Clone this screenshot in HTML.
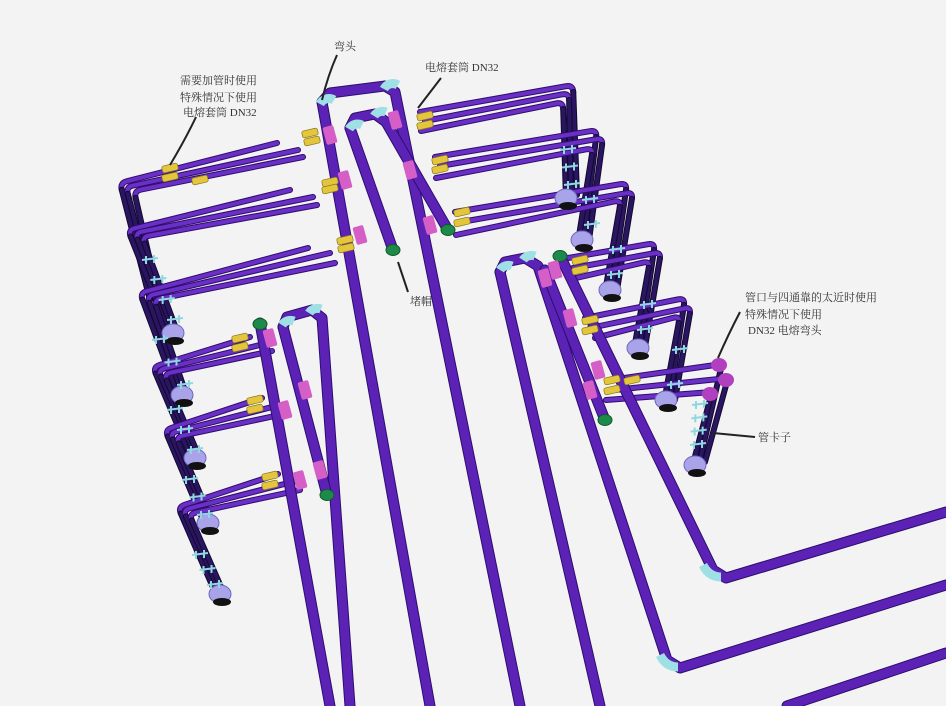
<!DOCTYPE html>
<html><head><meta charset="utf-8">
<style>
html,body{margin:0;padding:0;background:#f3f3f3;}
svg{display:block}
text{font-family:"Liberation Serif","Noto Serif CJK SC","Noto Sans CJK SC",serif;font-size:11px;fill:#333}
</style></head>
<body>
<svg id="s" width="946" height="706" viewBox="0 0 946 706" xmlns="http://www.w3.org/2000/svg">
<rect width="946" height="706" fill="#f3f3f3"/>
<g id="pipes"></g>
<g id="fit"></g>
<g stroke="#222" stroke-width="2" fill="none">
<path d="M337,55 Q328,75 322,100"/>
<path d="M441,78 L418,108"/>
<path d="M196,117 Q185,140 170,165"/>
<path d="M398,262 L408,292"/>
<path d="M740,312 Q728,335 718,358"/>
<path d="M713,433 L755,437"/>
</g>
<text x="334" y="50">弯头</text>
<text x="425" y="71">电熔套筒 DN32</text>
<text x="180" y="84">需要加管时使用</text>
<text x="180" y="101">特殊情况下使用</text>
<text x="183" y="116">电熔套筒 DN32</text>
<text x="410" y="305">堵帽</text>
<text x="745" y="301">管口与四通靠的太近时使用</text>
<text x="745" y="318">特殊情况下使用</text>
<text x="748" y="334">DN32 电熔弯头</text>
<text x="758" y="441">管卡子</text>
</svg>
<script>
var NS="http://www.w3.org/2000/svg";
var P=document.getElementById('pipes'),F=document.getElementById('fit');
function el(g,t,a){var e=document.createElementNS(NS,t);for(var k in a)e.setAttribute(k,a[k]);g.appendChild(e);return e;}
function line(g,d,w,c,dark){el(g,'path',{d:d,fill:'none',stroke:dark||'#2e0d6e','stroke-width':w+2,'stroke-linecap':'round','stroke-linejoin':'round'});el(g,'path',{d:d,fill:'none',stroke:c,'stroke-width':w,'stroke-linecap':'round','stroke-linejoin':'round'});}
function pl(pts){return 'M'+pts.map(function(p){return p[0]+','+p[1]}).join(' L');}
function main(pts){line(P,pl(pts),9,'#5b22b5');}
function u(a,b,l){var dx=a[0]-b[0],dy=a[1]-b[1],n=Math.hypot(dx,dy);return [b[0]+dx/n*l,b[1]+dy/n*l];}
function branch(e,c,b){var A=u(e,c,7),B=u(b,c,7);
 line(P,'M'+e+' L'+A+' Q'+c+' '+B,4,'#6a2fc4');
 line(P,'M'+B+' L'+b,4,'#2a1660','#120830');}
function oval(x,y){el(P,'ellipse',{cx:x,cy:y,rx:11,ry:9,fill:'#a9a3ea',stroke:'#6f67c0'});el(P,'ellipse',{cx:x+2,cy:y+8,rx:9,ry:4,fill:'#111'});}
function sleeve(x,y,a){var g=el(F,'g',{transform:'translate('+x+','+y+') rotate('+(a||-13)+')'});el(g,'rect',{x:-8,y:-3.5,width:16,height:7,rx:2,fill:'#e3c63c',stroke:'#8a7520','stroke-width':0.7});}
function pink(x,y,a){var g=el(F,'g',{transform:'translate('+x+','+y+') rotate('+a+')'});el(g,'rect',{x:-5.5,y:-9,width:11,height:18,rx:2,fill:'#d55fc6'});}
function cap(x,y){el(F,'ellipse',{cx:x,cy:y,rx:7,ry:5.5,fill:'#1d8a4a',stroke:'#0e5a2a'});}
function cyan(x,y,a){el(F,'path',{d:'M'+x+','+y+' a10,10 0 0 1 '+(a||16)+',-4',fill:'none',stroke:'#9fe0e6','stroke-width':9});}
function clips(x1,y1,x2,y2,n){for(var i=0;i<n;i++){var t=i/(n-1||1);var x=x1+(x2-x1)*t,y=y1+(y2-y1)*t;el(F,'path',{d:'M'+(x-8)+','+y+' l16,-2 M'+(x-4)+','+(y-4)+' l0,8 M'+(x+4)+','+(y-5)+' l0,8',stroke:'#8fd8e0','stroke-width':2,fill:'none'});}}

var L=[
 [[[277,143],[120,183],[150,300]],[[298,150],[126,187],[156,302]],[[303,157],[134,191],[160,304]]],
 [[[290,190],[128,230],[168,330]],[[313,197],[135,233],[174,332]],[[317,205],[142,237],[178,334]]],
 [[[308,248],[140,293],[176,390]],[[330,253],[147,296],[182,392]],[[335,263],[154,300],[186,394]]],
 [[[250,337],[153,367],[190,455]],[[268,343],[158,370],[196,457]],[[272,351],[164,374],[200,459]]],
 [[[262,398],[165,430],[203,520]],[[280,405],[170,433],[209,522]],[[284,414],[176,437],[213,524]]],
 [[[278,474],[178,507],[215,592]],[[296,481],[183,510],[221,594]],[[300,490],[189,514],[225,596]]]
];
L.forEach(function(g){g.forEach(function(b){branch(b[0],b[1],b[2]);});});
[[173,333],[182,395],[195,458],[208,523],[220,594]].forEach(function(o){oval(o[0],o[1]);});
clips(150,260,175,320,4);clips(160,340,185,385,3);clips(175,410,195,450,3);clips(190,480,205,515,3);clips(200,555,215,585,3);

var R=[
 [[[420,112],[573,85],[577,195]],[[425,121],[569,93],[571,197]],[[421,131],[563,102],[566,199]]],
 [[[435,157],[597,130],[584,238]],[[440,166],[603,138],[589,240]],[[436,178],[593,148],[578,242]]],
 [[[455,212],[627,183],[612,288]],[[461,222],[633,192],[617,290]],[[456,235],[621,200],[605,292]]],
 [[[568,258],[655,243],[640,345]],[[573,268],[661,252],[645,347]],[[576,278],[650,261],[634,349]]],
 [[[585,318],[685,298],[670,398]],[[590,328],[691,307],[675,400]],[[595,338],[680,316],[664,402]]],
 [[[610,380],[722,364],[700,460]],[[614,390],[728,378],[705,462]],[[606,400],[712,392],[693,464]]]
];
R.forEach(function(g){g.forEach(function(b){branch(b[0],b[1],b[2]);});});
[[566,198],[582,240],[610,290],[638,348],[666,400],[695,465]].forEach(function(o){oval(o[0],o[1]);});
clips(568,150,572,185,3);clips(590,200,592,225,2);clips(617,250,615,275,2);clips(648,305,645,330,2);clips(680,350,675,385,2);clips(700,405,698,445,4);

main([[322,102],[330,93],[385,86],[395,92],[520,706]]);
main([[322,102],[430,706]]);
main([[350,128],[355,118],[375,114],[386,122],[448,230]]);
main([[350,128],[393,250]]);
main([[260,323],[330,706]]);
main([[283,327],[287,317],[312,310],[322,318],[350,706]]);
main([[283,327],[327,495]]);
main([[500,272],[505,262],[525,258],[538,266],[667,660],[680,668],[946,585]]);
main([[500,272],[600,706]]);
main([[560,256],[713,570],[726,578],[946,512]]);
main([[787,706],[946,653]]);
main([[545,270],[605,420]]);

cyan(320,104,14);cyan(384,89,14);cyan(349,129,13);cyan(374,116,12);cyan(282,325,12);cyan(309,313,12);cyan(500,270,12);cyan(523,260,12);
el(F,'path',{d:'M703,565 q6,12 18,12',fill:'none',stroke:'#9fe0e6','stroke-width':9});
el(F,'path',{d:'M660,655 q6,12 18,12',fill:'none',stroke:'#9fe0e6','stroke-width':9});
cap(448,230);cap(393,250);cap(260,324);cap(327,495);cap(560,256);cap(605,420);
[[330,135],[345,180],[360,235],[395,120],[410,170],[430,225],[270,338],[285,410],[300,480],[305,390],[320,470],[555,270],[570,318],[590,390],[598,370],[545,278]].forEach(function(p){pink(p[0],p[1],-15);});
[[310,133],[312,141],[330,182],[330,189],[345,240],[346,248],[425,116],[425,125],[440,160],[440,169],[462,212],[462,222],[240,338],[240,347],[255,400],[255,409],[270,476],[270,485],[170,168],[170,177],[200,180],[580,260],[580,270],[590,320],[590,330],[612,380],[612,390],[632,380]].forEach(function(p){sleeve(p[0],p[1]);});
[[719,365],[726,380],[710,394]].forEach(function(p){el(F,'ellipse',{cx:p[0],cy:p[1],rx:8,ry:7,fill:'#b040c0'});});
</script>
</body></html>
